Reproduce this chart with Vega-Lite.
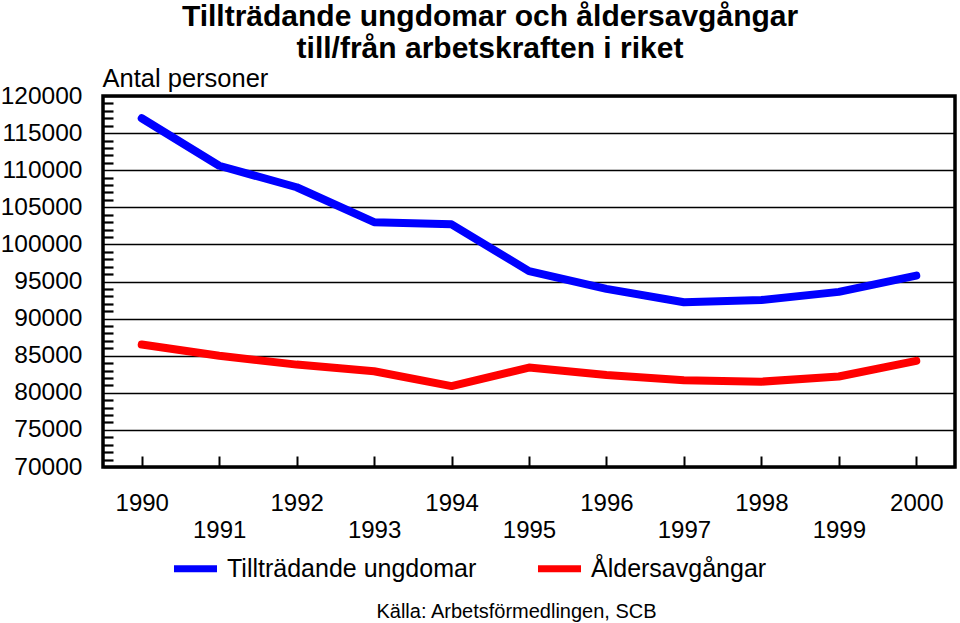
{
  "$schema": "https://vega.github.io/schema/vega-lite/v6.json",
  "width": 852,
  "height": 371,
  "autosize": {"type": "none"},
  "padding": {"left": 103, "top": 96, "right": 5, "bottom": 156},
  "background": "white",
  "config": {"font": "Liberation Sans", "view": {"stroke": "black", "strokeWidth": 3.5}},
  "title": {
    "text": ["Tillträdande ungdomar och åldersavgångar", "till/från arbetskraften i riket"],
    "fontSize": 30,
    "font": "Liberation Sans",
    "fontWeight": "bold",
    "color": "black",
    "anchor": "middle",
    "dx": -39,
    "dy": 2,
    "lineHeight": 32
  },
  "data": {
    "values": [
      {"year": 1990, "series": "Tillträdande ungdomar", "value": 117000},
      {"year": 1991, "series": "Tillträdande ungdomar", "value": 110600},
      {"year": 1992, "series": "Tillträdande ungdomar", "value": 107700},
      {"year": 1993, "series": "Tillträdande ungdomar", "value": 103000},
      {"year": 1994, "series": "Tillträdande ungdomar", "value": 102700},
      {"year": 1995, "series": "Tillträdande ungdomar", "value": 96400},
      {"year": 1996, "series": "Tillträdande ungdomar", "value": 94000},
      {"year": 1997, "series": "Tillträdande ungdomar", "value": 92200},
      {"year": 1998, "series": "Tillträdande ungdomar", "value": 92500},
      {"year": 1999, "series": "Tillträdande ungdomar", "value": 93600},
      {"year": 2000, "series": "Tillträdande ungdomar", "value": 95800},
      {"year": 1990, "series": "Åldersavgångar", "value": 86500},
      {"year": 1991, "series": "Åldersavgångar", "value": 85000},
      {"year": 1992, "series": "Åldersavgångar", "value": 83800},
      {"year": 1993, "series": "Åldersavgångar", "value": 82900},
      {"year": 1994, "series": "Åldersavgångar", "value": 80900},
      {"year": 1995, "series": "Åldersavgångar", "value": 83400},
      {"year": 1996, "series": "Åldersavgångar", "value": 82400},
      {"year": 1997, "series": "Åldersavgångar", "value": 81700},
      {"year": 1998, "series": "Åldersavgångar", "value": 81500},
      {"year": 1999, "series": "Åldersavgångar", "value": 82200},
      {"year": 2000, "series": "Åldersavgångar", "value": 84300}
    ]
  },
  "mark": {"type": "line", "strokeWidth": 8, "strokeCap": "round", "strokeJoin": "round"},
  "encoding": {
    "x": {
      "field": "year",
      "type": "ordinal",
      "scale": {"type": "point", "padding": 0.5},
      "axis": {
        "title": "Källa: Arbetsförmedlingen, SCB",
        "titleFontSize": 20,
        "titleFontWeight": "normal",
        "titleColor": "black",
        "titleX": 413,
        "titleY": 150,
        "titleBaseline": "alphabetic",
        "titleAlign": "center",
        "labelAngle": 0,
        "labelFontSize": 24,
        "labelColor": "black",
        "labelBaseline": "top",
        "labelPadding": {"condition": {"test": "datum.value % 2 === 1", "value": 51}, "value": 24},
        "ticks": false,
        "tickSize": 0,
        "domain": false,
        "grid": true,
        "gridColor": "black",
        "gridWidth": 2,
        "gridDash": [11, 360],
        "gridDashOffset": 11
      }
    },
    "y": {
      "field": "value",
      "type": "quantitative",
      "scale": {"domain": [70000, 120000], "nice": false},
      "axis": {
        "title": "Antal personer",
        "titleAngle": 0,
        "titleAlign": "left",
        "titleBaseline": "alphabetic",
        "titleX": -1,
        "titleY": -10,
        "titleFontSize": 25.5,
        "titleFontWeight": "normal",
        "titleColor": "black",
        "values": [70000, 71000, 72000, 73000, 74000, 75000, 76000, 77000, 78000, 79000, 80000, 81000, 82000, 83000, 84000, 85000, 86000, 87000, 88000, 89000, 90000, 91000, 92000, 93000, 94000, 95000, 96000, 97000, 98000, 99000, 100000, 101000, 102000, 103000, 104000, 105000, 106000, 107000, 108000, 109000, 110000, 111000, 112000, 113000, 114000, 115000, 116000, 117000, 118000, 119000, 120000],
        "format": "d",
        "labelExpr": "datum.value % 5000 === 0 ? datum.label : ''",
        "labelFontSize": 24.5,
        "labelColor": "black",
        "labelPadding": 21,
        "labelOverlap": false,
        "labelBound": false,
        "ticks": false,
        "tickSize": 0,
        "domain": false,
        "grid": true,
        "gridColor": "black",
        "gridWidth": {"condition": {"test": "datum.value % 5000 === 0", "value": 1.5}, "value": 2.2},
        "gridDash": {"condition": {"test": "datum.value % 5000 === 0", "value": [1000, 0]}, "value": [10, 2000]},
        "gridDashOffset": 0
      }
    },
    "color": {
      "field": "series",
      "type": "nominal",
      "scale": {"domain": ["Tillträdande ungdomar", "Åldersavgångar"], "range": ["#0000ff", "#ff0000"]},
      "legend": {
        "title": null,
        "orient": "none",
        "direction": "horizontal",
        "legendX": 67,
        "legendY": 447,
        "symbolType": "stroke",
        "symbolStrokeWidth": 7,
        "symbolSize": 1850,
        "labelFontSize": 25,
        "labelColor": "black",
        "labelOffset": 6,
        "columnPadding": 46,
        "labelLimit": 400
      }
    }
  }
}
